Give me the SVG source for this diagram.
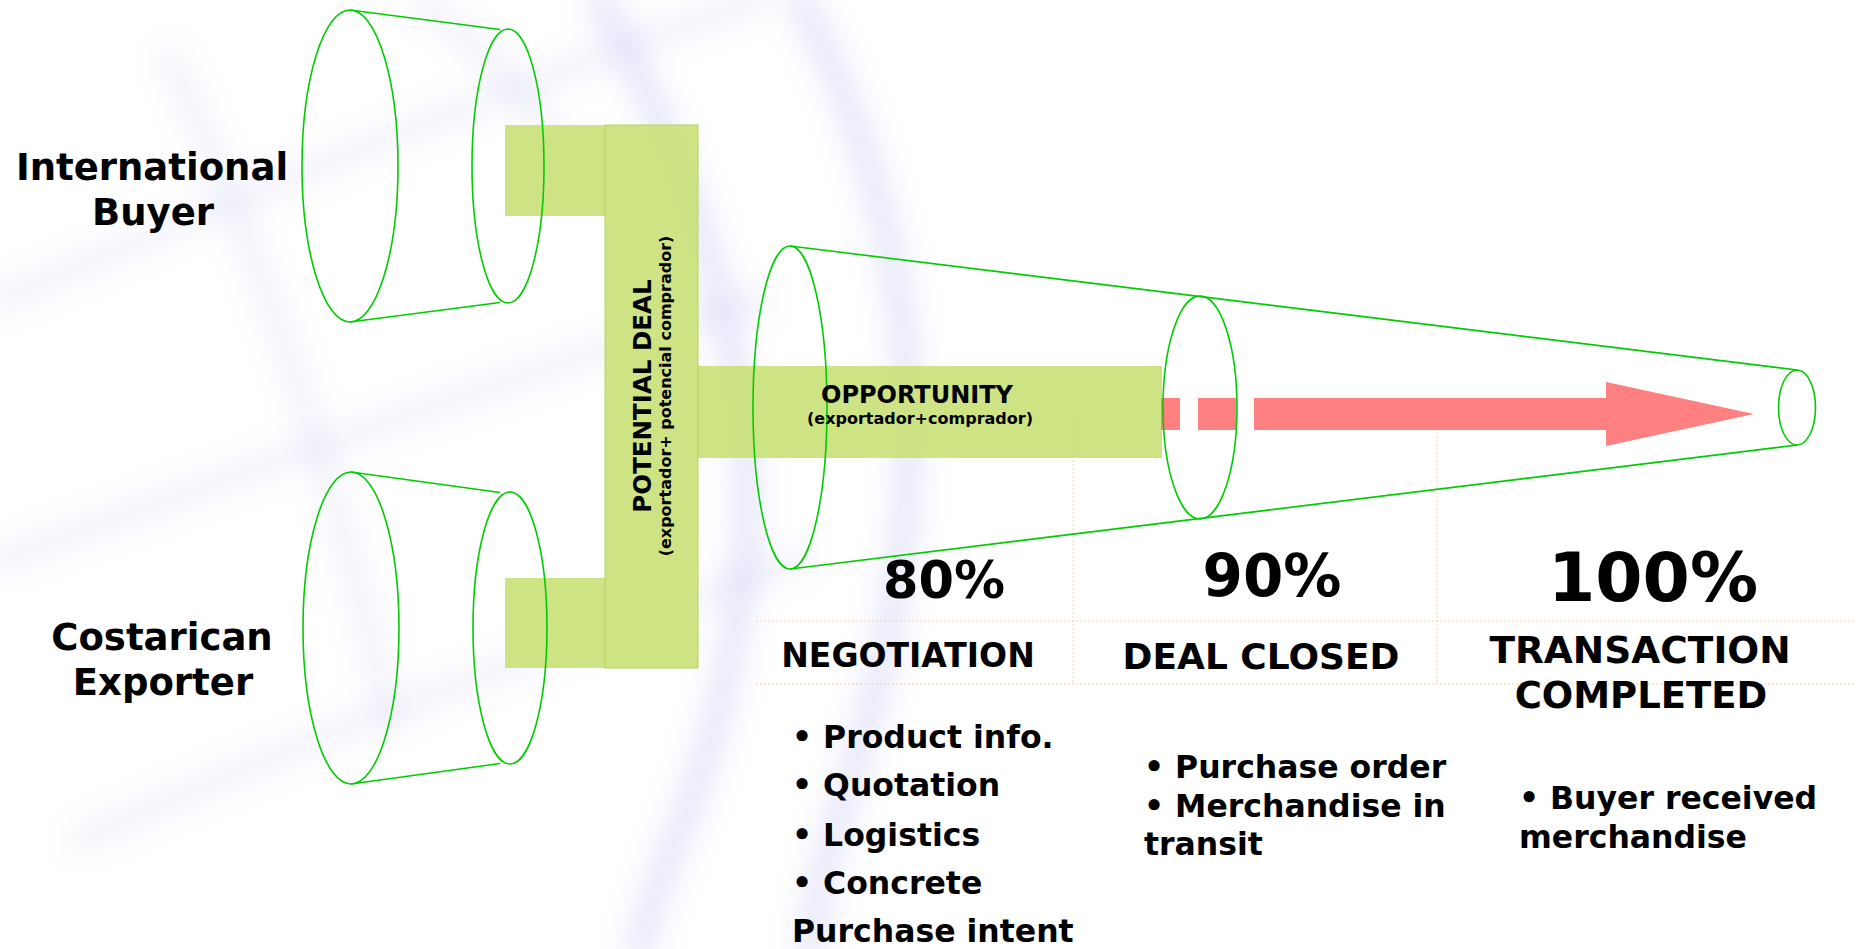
<svg xmlns="http://www.w3.org/2000/svg" width="1856" height="949" viewBox="0 0 1856 949">
  <defs>
    <filter id="blur" x="-20%" y="-20%" width="140%" height="140%">
      <feGaussianBlur stdDeviation="14"/>
    </filter>
    <style>
      .bg { fill: none; stroke: #b0b0ee; stroke-width: 28; stroke-linecap: round; opacity: 0.3; }
      .bgf { fill: none; stroke: #b0b0ee; stroke-width: 24; stroke-linecap: round; opacity: 0.16; }
      .cyl { fill: none; stroke: #00cc00; stroke-width: 1.6; }
      .bar { fill: #c6e070; fill-opacity: 0.86; }
      .barEdge { fill: #c6e070; fill-opacity: 0.86; stroke: #b5d45a; stroke-width: 1; }
      .grid { stroke: #f8c390; stroke-width: 1; stroke-dasharray: 2 2; opacity: 0.8; }
      .t { font-family: "DejaVu Sans", Verdana, sans-serif; font-weight: bold; fill: #000; }
      .red { fill: #ff8080; }
    </style>
  </defs>

  <rect width="1856" height="949" fill="#ffffff"/>

  <!-- faint background grid -->
  <g id="background" filter="url(#blur)">
    <path class="bgf" d="M 0 300 C 150 235, 330 160, 500 95 S 700 20, 760 0"/>
    <path class="bgf" d="M 0 560 C 250 470, 500 380, 760 300"/>
    <path class="bgf" d="M 80 840 C 300 740, 550 650, 800 560"/>
    <path class="bgf" d="M 170 60 C 260 250, 330 460, 390 720"/>
    <path class="bg" d="M 600 0 C 700 180, 770 400, 740 600 S 660 850, 640 949"/>
    <path class="bg" d="M 800 0 C 880 150, 930 350, 900 560 S 830 800, 810 949"/>
    <path class="bgf" d="M 420 0 C 470 40, 520 80, 560 150"/>
  </g>

  <!-- dotted table lines -->
  <g id="table-lines">
    <line class="grid" x1="756" y1="621" x2="1856" y2="621"/>
    <line class="grid" x1="756" y1="684" x2="1856" y2="684"/>
    <line class="grid" x1="1073" y1="412" x2="1073" y2="684"/>
    <line class="grid" x1="1437" y1="412" x2="1437" y2="684"/>
  </g>

  <!-- connectors -->
  <g id="connectors">
    <rect class="bar" x="505" y="125" width="100" height="91"/>
    <rect class="bar" x="505" y="578" width="100" height="90"/>
    <rect class="bar" x="697" y="366" width="465" height="92"/>
    <rect class="red" x="1161" y="398" width="19" height="32"/>
    <rect class="red" x="1198" y="398" width="38" height="32"/>
    <polygon class="red" points="1254,398 1606,398 1606,382 1754,414 1606,446 1606,430 1254,430"/>
  </g>

  <g id="potential-deal">
    <rect class="barEdge" x="605" y="125" width="93" height="543"/>
    <text class="t" transform="translate(651 396) rotate(-90)" text-anchor="middle" font-size="24.5">POTENTIAL DEAL</text>
    <text class="t" transform="translate(671 396) rotate(-90)" text-anchor="middle" font-size="16">(exportador+ potencial comprador)</text>
  </g>

  <g id="buyer">
    <ellipse class="cyl" cx="350" cy="166" rx="48" ry="156"/>
    <ellipse class="cyl" cx="508" cy="166" rx="36" ry="137"/>
    <line class="cyl" x1="350" y1="10" x2="500" y2="29.5"/>
    <line class="cyl" x1="350" y1="322" x2="500" y2="302.5"/>
    <text class="t" x="152" y="180" text-anchor="middle" font-size="37">International</text>
    <text class="t" x="153" y="225" text-anchor="middle" font-size="37">Buyer</text>
  </g>

  <g id="exporter">
    <ellipse class="cyl" cx="351" cy="628" rx="48" ry="156"/>
    <ellipse class="cyl" cx="510" cy="628" rx="37" ry="136"/>
    <line class="cyl" x1="351" y1="472" x2="500" y2="492.5"/>
    <line class="cyl" x1="351" y1="784" x2="500" y2="763.5"/>
    <text class="t" x="162" y="650" text-anchor="middle" font-size="37">Costarican</text>
    <text class="t" x="163" y="695" text-anchor="middle" font-size="37">Exporter</text>
  </g>

  <g id="funnel">
    <ellipse class="cyl" cx="790" cy="407.5" rx="37" ry="161.5"/>
    <ellipse class="cyl" cx="1200" cy="407.5" rx="37" ry="111.5"/>
    <ellipse class="cyl" cx="1797" cy="407.5" rx="18.5" ry="37.5"/>
    <line class="cyl" x1="790" y1="246" x2="1797" y2="370"/>
    <line class="cyl" x1="790" y1="569" x2="1797" y2="445"/>
  </g>

  <g id="opportunity">
    <text class="t" x="917" y="403" text-anchor="middle" font-size="24">OPPORTUNITY</text>
    <text class="t" x="920" y="424" text-anchor="middle" font-size="16">(exportador+comprador)</text>
  </g>

  <g id="stage-negotiation">
    <text class="t" x="944" y="598" text-anchor="middle" font-size="51">80%</text>
    <text class="t" x="908" y="667" text-anchor="middle" font-size="33">NEGOTIATION</text>
    <text class="t" x="792" y="748" font-size="31.5">&#8226; Product info.</text>
    <text class="t" x="792" y="796" font-size="31.5">&#8226; Quotation</text>
    <text class="t" x="792" y="846" font-size="31.5">&#8226; Logistics</text>
    <text class="t" x="792" y="894" font-size="31.5">&#8226; Concrete</text>
    <text class="t" x="792" y="942" font-size="31.5">Purchase intent</text>
  </g>

  <g id="stage-deal-closed">
    <text class="t" x="1272" y="596" text-anchor="middle" font-size="58">90%</text>
    <text class="t" x="1261" y="669" text-anchor="middle" font-size="36">DEAL CLOSED</text>
    <text class="t" x="1144" y="778" font-size="31.5">&#8226; Purchase order</text>
    <text class="t" x="1144" y="817" font-size="31.5">&#8226; Merchandise in</text>
    <text class="t" x="1144" y="855" font-size="31.5">transit</text>
  </g>

  <g id="stage-transaction">
    <text class="t" x="1653" y="601" text-anchor="middle" font-size="68">100%</text>
    <text class="t" x="1640" y="663" text-anchor="middle" font-size="37.5">TRANSACTION</text>
    <text class="t" x="1641" y="708" text-anchor="middle" font-size="37">COMPLETED</text>
    <text class="t" x="1519" y="809" font-size="31.5">&#8226; Buyer received</text>
    <text class="t" x="1519" y="848" font-size="31.5">merchandise</text>
  </g>
</svg>
